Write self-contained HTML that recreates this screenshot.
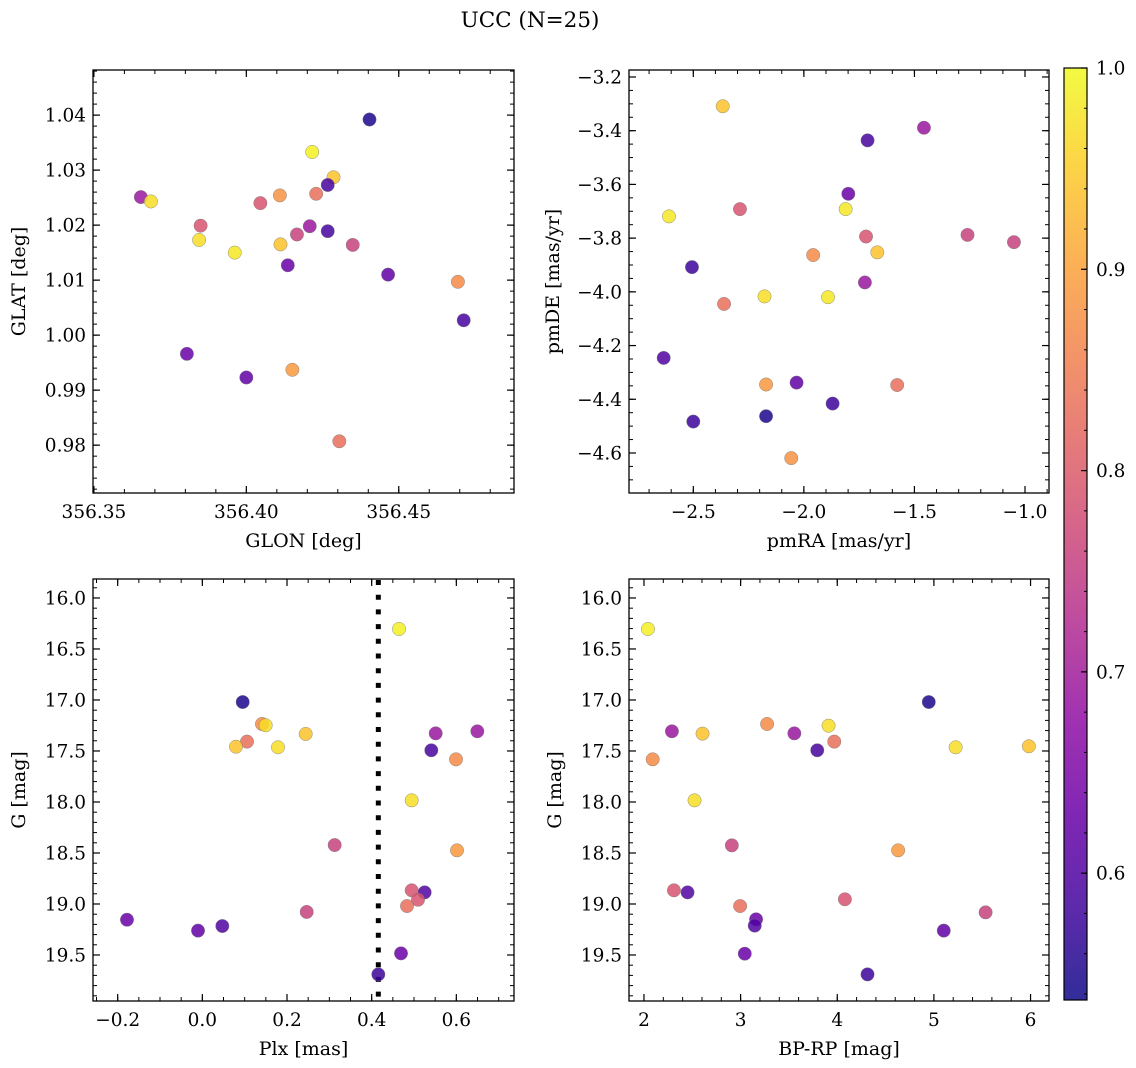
<!DOCTYPE html>
<html><head><meta charset="utf-8">
<style>
html,body{margin:0;padding:0;background:#fff;}
svg{display:block;font-family:"DejaVu Serif","Liberation Serif",serif;}
</style></head>
<body>
<svg id="fig" width="1136" height="1068" viewBox="0 0 1136 1068" xmlns="http://www.w3.org/2000/svg">
<text x="530" y="27" font-size="21.5" text-anchor="middle">UCC (N=25)</text>
</svg>
<script>
// ---- data ----
const p1x=[356.4404,356.4216,356.4286,356.4267,356.3654,356.3687,356.4046,356.4110,356.4229,356.3850,356.4208,356.4267,356.4166,356.3845,356.4112,356.4349,356.3962,356.4136,356.4465,356.4694,356.4713,356.3805,356.4000,356.4151,356.4305];
const p1y=[1.0392,1.0333,1.0287,1.0273,1.0251,1.0243,1.0240,1.0254,1.0257,1.0199,1.0198,1.0189,1.0183,1.0173,1.0165,1.0164,1.0150,1.0127,1.0110,1.0097,1.0027,0.9966,0.9923,0.9937,0.9807];
const p1c=[0.55,0.99,0.94,0.59,0.69,0.97,0.79,0.88,0.83,0.79,0.69,0.59,0.76,0.97,0.94,0.76,0.98,0.63,0.62,0.87,0.59,0.63,0.62,0.89,0.83];

const p2x=[-2.367,-1.457,-1.712,-1.799,-1.811,-2.289,-2.610,-1.719,-1.260,-1.050,-1.668,-1.958,-2.506,-1.724,-2.178,-1.891,-2.361,-2.634,-2.171,-2.033,-1.578,-1.870,-2.171,-2.500,-2.057];
const p2y=[-3.309,-3.389,-3.436,-3.635,-3.692,-3.692,-3.719,-3.794,-3.788,-3.815,-3.853,-3.863,-3.908,-3.965,-4.017,-4.020,-4.045,-4.246,-4.345,-4.338,-4.347,-4.416,-4.463,-4.483,-4.619];
const p2c=[0.94,0.69,0.59,0.63,0.98,0.79,0.98,0.79,0.76,0.76,0.94,0.87,0.58,0.69,0.97,0.98,0.83,0.60,0.89,0.62,0.83,0.58,0.55,0.58,0.88];

const p3x=[0.4646,0.0953,0.1409,0.1496,0.2441,0.1055,0.0795,0.1787,0.5512,0.6496,0.5409,0.5992,0.4945,0.3126,0.6016,0.4945,0.5252,0.5094,0.4835,0.2465,-0.1780,0.0472,-0.0102,0.4693,0.4157];
const p3y=[16.304,17.020,17.235,17.248,17.333,17.408,17.458,17.464,17.327,17.307,17.493,17.582,17.984,18.422,18.474,18.866,18.886,18.958,19.020,19.078,19.154,19.216,19.261,19.484,19.690];
const p3c=[0.99,0.55,0.87,0.97,0.94,0.83,0.94,0.97,0.69,0.69,0.59,0.87,0.97,0.76,0.89,0.79,0.60,0.79,0.83,0.76,0.63,0.60,0.62,0.63,0.58];

const p4x=[2.041,4.947,2.289,2.606,3.274,3.556,3.910,3.969,3.793,5.225,5.983,2.090,2.523,2.909,4.630,2.310,2.451,2.995,4.079,5.535,3.160,3.146,5.102,3.043,4.313];
const p4y=[16.304,17.020,17.307,17.330,17.235,17.327,17.252,17.408,17.493,17.464,17.454,17.582,17.984,18.425,18.474,18.866,18.886,19.020,18.954,19.082,19.150,19.212,19.261,19.487,19.690];
const p4c=[0.99,0.55,0.69,0.94,0.87,0.69,0.97,0.83,0.59,0.97,0.94,0.87,0.97,0.76,0.89,0.79,0.60,0.83,0.79,0.76,0.63,0.60,0.62,0.63,0.58];

const plxCut=0.4157;

const t1x=[356.35,356.40,356.45], t1xl=["356.35","356.40","356.45"];
const t1y=[0.98,0.99,1.00,1.01,1.02,1.03,1.04], t1yl=["0.98","0.99","1.00","1.01","1.02","1.03","1.04"];
const t2x=[-2.5,-2.0,-1.5,-1.0], t2xl=["\u22122.5","\u22122.0","\u22121.5","\u22121.0"];
const t2y=[-3.2,-3.4,-3.6,-3.8,-4.0,-4.2,-4.4,-4.6], t2yl=["\u22123.2","\u22123.4","\u22123.6","\u22123.8","\u22124.0","\u22124.2","\u22124.4","\u22124.6"];
const t3x=[-0.2,0.0,0.2,0.4,0.6], t3xl=["\u22120.2","0.0","0.2","0.4","0.6"];
const tGy=[16.0,16.5,17.0,17.5,18.0,18.5,19.0,19.5], tGyl=["16.0","16.5","17.0","17.5","18.0","18.5","19.0","19.5"];
const t4x=[2,3,4,5,6], t4xl=["2","3","4","5","6"];
const tcb=[0.6,0.7,0.8,0.9,1.0], tcbl=["0.6","0.7","0.8","0.9","1.0"];

const vmin=0.537, vmax=1.0;
// ---- helpers ----
const NS="http://www.w3.org/2000/svg";
const svg=document.getElementById('fig');
function mk(tag,attrs,parent){const e=document.createElementNS(NS,tag);for(const k in attrs)e.setAttribute(k,attrs[k]);(parent||svg).appendChild(e);return e;}
const stops=[[13,8,135],[65,4,157],[106,0,168],[143,13,164],[177,42,144],[204,71,120],[225,100,98],[242,132,75],[252,166,54],[252,206,37],[240,249,33]];
function plasma(t){t=Math.max(0,Math.min(1,t));const f=t*10,i=Math.min(9,Math.floor(f)),r=f-i;const a=stops[i],b=stops[i+1];return `rgb(${Math.round(a[0]+(b[0]-a[0])*r)},${Math.round(a[1]+(b[1]-a[1])*r)},${Math.round(a[2]+(b[2]-a[2])*r)})`;}
function cmap(v){return plasma((v-vmin)/(vmax-vmin));}
const TFS=18.5, LFS=19;

function panel(o){
  const g=mk('g',{});
  
  
  const L=o.box[0],T=o.box[1],R=o.box[2],B=o.box[3];
  const sx=v=>L+(v-o.xl[0])/(o.xl[1]-o.xl[0])*(R-L);
  const sy=v=>T+(v-o.yl[0])/(o.yl[1]-o.yl[0])*(B-T);
  const eps=1e-9;
  for(let v=Math.ceil(o.xl[0]/o.xm-eps)*o.xm; v<=o.xl[1]+eps; v+=o.xm){const x=sx(v);
    mk('line',{x1:x,y1:B,x2:x,y2:B-4,stroke:'#000','stroke-width':1},g);mk('line',{x1:x,y1:T,x2:x,y2:T+4,stroke:'#000','stroke-width':1},g);}
  const ylo=Math.min(o.yl[0],o.yl[1]),yhi=Math.max(o.yl[0],o.yl[1]);
  for(let v=Math.ceil(ylo/o.ym-eps)*o.ym; v<=yhi+eps; v+=o.ym){const y=sy(v);
    mk('line',{x1:L,y1:y,x2:L+4,y2:y,stroke:'#000','stroke-width':1},g);mk('line',{x1:R,y1:y,x2:R-4,y2:y,stroke:'#000','stroke-width':1},g);}
  o.tx.forEach((v,i)=>{const x=sx(v);
    mk('line',{x1:x,y1:B,x2:x,y2:B-7,stroke:'#000','stroke-width':1.2},g);mk('line',{x1:x,y1:T,x2:x,y2:T+7,stroke:'#000','stroke-width':1.2},g);
    const t=mk('text',{x:x,y:B+25,'font-size':TFS,'text-anchor':'middle'},g);t.textContent=o.txl[i];
    
    });
  o.ty.forEach((v,i)=>{const y=sy(v);
    mk('line',{x1:L,y1:y,x2:L+7,y2:y,stroke:'#000','stroke-width':1.2},g);mk('line',{x1:R,y1:y,x2:R-7,y2:y,stroke:'#000','stroke-width':1.2},g);
    const t=mk('text',{x:L-7,y:y+6.5,'font-size':TFS,'text-anchor':'end'},g);t.textContent=o.tyl[i];
    
    });
  if(o.vline!==undefined){const x=sx(o.vline);
    const ln=mk('line',{x1:x,y1:T+1,x2:x,y2:B,stroke:'#000','stroke-width':5,'stroke-dasharray':'5 9.7'},g);
    
    }
  o.x.forEach((v,i)=>{const c=mk('circle',{cx:sx(v),cy:sy(o.y[i]),r:6.7,fill:cmap(o.c[i]),'fill-opacity':0.85,stroke:'#777','stroke-width':0.5,'stroke-opacity':0.8},g);
    
    });
  mk('rect',{x:L,y:T,width:R-L,height:B-T,fill:'none',stroke:'#000','stroke-width':1.3},g);
  const xl=mk('text',{x:(L+R)/2,y:B+54,'font-size':LFS,'text-anchor':'middle'},g);xl.textContent=o.xlab;
  
  
  const yx=L-68+(o.ylabOff||0), yy=(T+B)/2;
  const ylb=mk('text',{x:yx,y:yy,'font-size':LFS,'text-anchor':'middle',transform:`rotate(-90 ${yx} ${yy})`},g);ylb.textContent=o.ylab;
  
  
}

panel({name:'glon-glat-panel',box:[93,70,514,493],xl:[356.3497,356.4878],yl:[1.0482,0.9713],x:p1x,y:p1y,c:p1c,tx:t1x,txl:t1xl,ty:t1y,tyl:t1yl,xm:0.01,ym:0.002,xlab:'GLON [deg]',ylab:'GLAT [deg]'});
panel({name:'proper-motion-panel',box:[629,70,1049,493],xl:[-2.7908,-0.8915],yl:[-3.174,-4.749],x:p2x,y:p2y,c:p2c,tx:t2x,txl:t2xl,ty:t2y,tyl:t2yl,xm:0.1,ym:0.05,xlab:'pmRA [mas/yr]',ylab:'pmDE [mas/yr]',ylabOff:-2});
panel({name:'plx-g-panel',box:[93,579,514,1001],xl:[-0.2583,0.7362],yl:[15.814,19.951],x:p3x,y:p3y,c:p3c,tx:t3x,txl:t3xl,ty:tGy,tyl:tGyl,xm:0.05,ym:0.1,xlab:'Plx [mas]',ylab:'G [mag]',vline:plxCut});
panel({name:'color-magnitude-panel',box:[629,579,1049,1001],xl:[1.845,6.191],yl:[15.814,19.951],x:p4x,y:p4y,c:p4c,tx:t4x,txl:t4xl,ty:tGy,tyl:tGyl,xm:0.2,ym:0.1,xlab:'BP-RP [mag]',ylab:'G [mag]'});

// colorbar
const cb=mk('g',{});


const defs=mk('defs',{},cb);
const grad=mk('linearGradient',{id:'cbg',x1:0,y1:1,x2:0,y2:0},defs);
for(let i=0;i<=20;i++){mk('stop',{offset:i/20,'stop-color':plasma(i/20),'stop-opacity':0.85},grad);}
const CL=1064,CR=1087,CT=68,CB=1000;
mk('rect',{x:CL,y:CT,width:CR-CL,height:CB-CT,fill:'url(#cbg)',stroke:'#000','stroke-width':1.2},cb);
const cy=v=>CB-(v-vmin)/(vmax-vmin)*(CB-CT);
for(let v=0.54;v<=1.0001;v+=0.02){mk('line',{x1:CR,y1:cy(v),x2:CR-3,y2:cy(v),stroke:'#000','stroke-width':1},cb);}
tcb.forEach((v,i)=>{mk('line',{x1:CR,y1:cy(v),x2:CR-6,y2:cy(v),stroke:'#000','stroke-width':1.2},cb);
  const t=mk('text',{x:CR+9,y:cy(v)+6.5,'font-size':TFS},cb);t.textContent=tcbl[i];
  
  });
</script>
</body></html>
